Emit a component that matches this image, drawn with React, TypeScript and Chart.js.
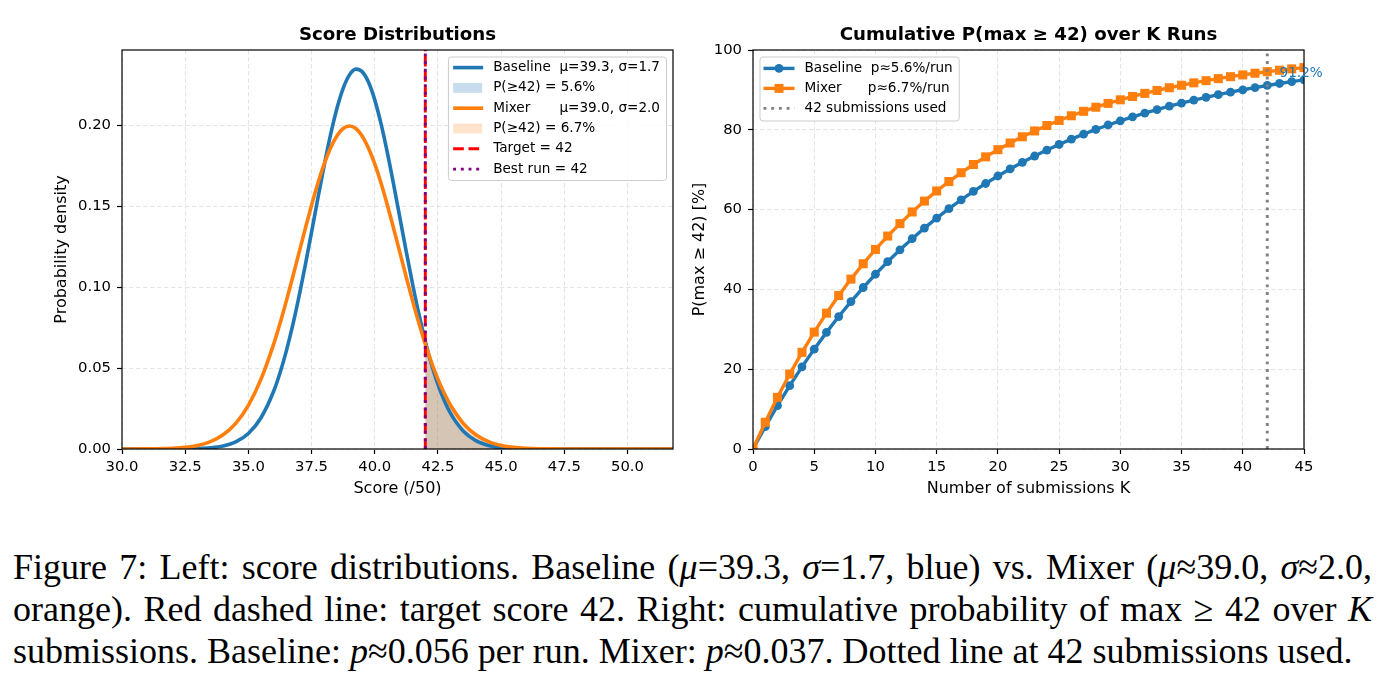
import React, { useEffect, useRef } from "react";
import { Chart, registerables } from "chart.js";
Chart.register(...registerables);

const FONT = "'DejaVu Sans', sans-serif";
const BLUE = "#1f77b4";
const ORANGE = "#ff7f0e";

// ---------- Left panel: score distributions ----------
const SCORE_X = [
  30, 31, 32, 32.5, 33, 33.5, 34, 34.5, 35, 35.5,
  36, 36.25, 36.5, 36.75, 37, 37.25, 37.5, 37.75, 38, 38.25, 38.5, 38.75, 39, 39.25,
  39.5, 39.75, 40, 40.25, 40.5, 40.75, 41, 41.25, 41.5, 41.75, 42, 42.25, 42.5, 42.75,
  43, 43.5, 44, 44.5, 45, 45.5, 46, 46.5, 47, 47.5, 48, 49, 50, 51, 52,
];
const BASELINE_PDF = [
  0, 0.0000016, 0.000023, 0.000079, 0.000244, 0.000697, 0.00182, 0.00436, 0.00957, 0.0193,
  0.03567, 0.04694, 0.06045, 0.07619, 0.09397, 0.11342, 0.13398, 0.15486, 0.17518, 0.19392, 0.21008, 0.2227, 0.23104, 0.23457,
  0.23305, 0.22659, 0.2156, 0.20075, 0.18292, 0.16312, 0.14233, 0.12155, 0.10158, 0.08307, 0.06648, 0.05207, 0.03991, 0.02993,
  0.02197, 0.01109, 0.00514, 0.00218, 0.00085, 0.0003, 0.0001, 0.00003, 0.00001, 0, 0, 0, 0, 0, 0,
];
const MIXER_PDF = [
  0.000008, 0.000067, 0.000436, 0.001014, 0.002216, 0.004547, 0.008764, 0.01587, 0.027, 0.04314,
  0.06476, 0.07751, 0.09132, 0.10594, 0.12099, 0.13603, 0.15057, 0.16408, 0.17603, 0.18593, 0.19333, 0.19792, 0.19947, 0.19792,
  0.19333, 0.18593, 0.17603, 0.16408, 0.15057, 0.13603, 0.12099, 0.10594, 0.09132, 0.07751, 0.06476, 0.05327, 0.04314, 0.03439,
  0.027, 0.01587, 0.00876, 0.00455, 0.00222, 0.00101, 0.00044, 0.00018, 0.00007, 0.00002, 0.00001, 0, 0, 0, 0,
];
const SCORE_TICKS = [30, 32.5, 35, 37.5, 40, 42.5, 45, 47.5, 50];
const DENSITY_TICKS = [0, 0.05, 0.1, 0.15, 0.2];
const TARGET_SCORE = 42;
const BEST_RUN = 42;

// ---------- Right panel: cumulative probability ----------
const K_VALUES = [
  0, 1, 2, 3, 4, 5, 6, 7, 8, 9, 10, 11, 12, 13, 14, 15, 16, 17, 18, 19, 20, 21, 22,
  23, 24, 25, 26, 27, 28, 29, 30, 31, 32, 33, 34, 35, 36, 37, 38, 39, 40, 41, 42, 43, 44, 45,
];
const BASELINE_CUM = [
  0, 5.6, 10.89, 15.88, 20.59, 25.03, 29.23, 33.2, 36.94, 40.47, 43.8, 46.95, 49.92, 52.72, 55.37, 57.87,
  60.23, 62.46, 64.56, 66.54, 68.42, 70.19, 71.86, 73.43, 74.92, 76.32, 77.65, 78.9, 80.08, 81.2, 82.25,
  83.25, 84.18, 85.07, 85.91, 86.69, 87.44, 88.14, 88.81, 89.43, 90.03, 90.58, 91.11, 91.61, 92.08, 92.52,
];
const MIXER_CUM = [
  0, 6.7, 12.95, 18.78, 24.22, 29.3, 34.04, 38.46, 42.58, 46.43, 50.02, 53.37, 56.49, 59.41, 62.13, 64.66,
  67.03, 69.24, 71.3, 73.22, 75.02, 76.69, 78.25, 79.71, 81.07, 82.34, 83.52, 84.63, 85.66, 86.62, 87.51,
  88.35, 89.13, 89.86, 90.54, 91.17, 91.76, 92.32, 92.83, 93.31, 93.76, 94.18, 94.57, 94.93, 95.27, 95.59,
];
const K_TICKS = [0, 5, 10, 15, 20, 25, 30, 35, 40, 45];
const PCT_TICKS = [0, 20, 40, 60, 80, 100];
const SUBMISSIONS_USED = 42;
const ANNOT_TEXT = "91.2%";
const ANNOT_K = 43;
const ANNOT_Y = 93.2;

const TICK_SIZE = 14.8;
const AXIS_TITLE_SIZE = 16;
const LEGEND_SIZE = 13.6;
const GRID_COLOR = "#e4e4e4";

function baseScale(min: number, max: number, ticks: number[], fmt: (v: number) => string, title: string, isX: boolean, extra: any = {}) {
  return {
    type: "linear",
    min,
    max,
    afterBuildTicks: (s: any) => {
      s.ticks = ticks.map((v) => ({ value: v }));
    },
    afterFit: (s: any) => {
      if (isX) s.height = extra.h;
      else s.width = extra.w;
    },
    ticks: {
      color: "#000",
      font: { family: FONT, size: TICK_SIZE },
      padding: isX ? 4.5 : 6,
      callback: (v: any) => fmt(Number(v)),
      maxRotation: 0,
      autoSkip: false,
    },
    grid: {
      color: GRID_COLOR,
      lineWidth: 1,
      drawTicks: true,
      tickLength: 5,
      tickColor: "#000",
      tickWidth: 1.2,
    },
    border: { display: false, dash: [4.5, 2.5] },
    title: {
      display: true,
      text: title,
      color: "#000",
      font: { family: FONT, size: AXIS_TITLE_SIZE },
      padding: extra.titlePad ?? { top: 4, bottom: 4 },
    },
  };
}

function drawSpines(ctx: CanvasRenderingContext2D, a: any) {
  ctx.save();
  ctx.strokeStyle = "#000";
  ctx.lineWidth = 1.2;
  ctx.strokeRect(a.left, a.top, a.right - a.left, a.bottom - a.top);
  ctx.restore();
}

function drawTitle(ctx: CanvasRenderingContext2D, a: any, text: string) {
  ctx.save();
  ctx.font = `bold 18.2px ${FONT}`;
  ctx.fillStyle = "#000";
  ctx.textAlign = "center";
  ctx.textBaseline = "middle";
  ctx.fillText(text, (a.left + a.right) / 2, a.top - 15);
  ctx.restore();
}

function legendFrame(ctx: CanvasRenderingContext2D, x: number, y: number, w: number, h: number) {
  ctx.save();
  ctx.beginPath();
  ctx.roundRect(x, y, w, h, 3);
  ctx.fillStyle = "rgba(255,255,255,0.8)";
  ctx.fill();
  ctx.strokeStyle = "#cccccc";
  ctx.lineWidth = 1;
  ctx.stroke();
  ctx.restore();
}

function hLine(ctx: CanvasRenderingContext2D, x1: number, x2: number, y: number, color: string, width: number, dash: number[] = []) {
  ctx.save();
  ctx.strokeStyle = color;
  ctx.lineWidth = width;
  ctx.setLineDash(dash);
  ctx.beginPath();
  ctx.moveTo(x1, y);
  ctx.lineTo(x2, y);
  ctx.stroke();
  ctx.restore();
}

function vLineAt(chart: any, value: number, color: string, width: number, dash: number[]) {
  const { ctx, chartArea: a, scales } = chart;
  const x = scales.x.getPixelForValue(value);
  ctx.save();
  ctx.beginPath();
  ctx.rect(a.left, a.top, a.right - a.left, a.bottom - a.top);
  ctx.clip();
  ctx.strokeStyle = color;
  ctx.lineWidth = width;
  ctx.setLineDash(dash);
  ctx.beginPath();
  ctx.moveTo(x, a.bottom);
  ctx.lineTo(x, a.top);
  ctx.stroke();
  ctx.restore();
}

const leftPlugin = {
  id: "leftDecor",
  afterDatasetsDraw(chart: any) {
    const { ctx, chartArea: a } = chart;
    vLineAt(chart, TARGET_SCORE, "#ff0000", 2.9, [10.7, 4.6]);
    vLineAt(chart, BEST_RUN, "#800080", 2.9, [2.9, 4.8]);
    drawSpines(ctx, a);
    drawTitle(ctx, a, "Score Distributions");

    ctx.save();
    ctx.font = `${LEGEND_SIZE}px ${FONT}`;
    const statsOff = ctx.measureText("Baseline  ").width;
    const items = [
      { kind: "line", color: BLUE, name: "Baseline", stats: "μ=39.3, σ=1.7" },
      { kind: "patch", color: "rgba(31,119,180,0.25)", name: "P(≥42) = 5.6%" },
      { kind: "line", color: ORANGE, name: "Mixer", stats: "μ=39.0, σ=2.0" },
      { kind: "patch", color: "rgba(255,127,14,0.22)", name: "P(≥42) = 6.7%" },
      { kind: "dash", color: "#ff0000", name: "Target = 42" },
      { kind: "dot", color: "#800080", name: "Best run = 42" },
    ];
    let maxW = 0;
    for (const it of items) {
      const w = it.stats ? statsOff + ctx.measureText(it.stats).width : ctx.measureText(it.name).width;
      maxW = Math.max(maxW, w);
    }
    const boxW = 4.7 + 30 + 10 + maxW + 6.5;
    const boxH = 123.5;
    const bx = a.right - 6.5 - boxW;
    const by = a.top + 7;
    legendFrame(ctx, bx, by, boxW, boxH);
    const hx1 = bx + 4.7;
    const hx2 = hx1 + 30;
    const tx = hx2 + 10;
    items.forEach((it, i) => {
      const cy = by + 10.6 + i * 20.3;
      if (it.kind === "line") hLine(ctx, hx1, hx2, cy, it.color, 3.6);
      else if (it.kind === "patch") {
        ctx.fillStyle = it.color;
        ctx.fillRect(hx1, cy - 5, 29, 10);
      } else if (it.kind === "dash") hLine(ctx, hx1, hx2, cy, it.color, 2.9, [10.7, 4.6]);
      else hLine(ctx, hx1, hx2, cy, it.color, 2.9, [2.9, 4.8]);
      ctx.fillStyle = "#000";
      ctx.textBaseline = "middle";
      ctx.textAlign = "left";
      ctx.fillText(it.name, tx, cy);
      if (it.stats) ctx.fillText(it.stats, tx + statsOff, cy);
    });
    ctx.restore();
  },
};

const rightPlugin = {
  id: "rightDecor",
  afterDatasetsDraw(chart: any) {
    const { ctx, chartArea: a, scales } = chart;
    vLineAt(chart, SUBMISSIONS_USED, "#808080", 2.9, [2.9, 4.8]);
    drawSpines(ctx, a);
    drawTitle(ctx, a, "Cumulative P(max ≥ 42) over K Runs");

    ctx.save();
    ctx.font = `${LEGEND_SIZE}px ${FONT}`;
    ctx.fillStyle = BLUE;
    ctx.textAlign = "left";
    ctx.textBaseline = "alphabetic";
    ctx.fillText(ANNOT_TEXT, scales.x.getPixelForValue(ANNOT_K), scales.y.getPixelForValue(ANNOT_Y));
    ctx.restore();

    ctx.save();
    ctx.font = `${LEGEND_SIZE}px ${FONT}`;
    const statsOff = ctx.measureText("Baseline  ").width;
    const items = [
      { kind: "circle", color: BLUE, name: "Baseline", stats: "p≈5.6%/run", off: statsOff },
      { kind: "square", color: ORANGE, name: "Mixer", stats: "p≈6.7%/run", off: statsOff - 3 },
      { kind: "dot", color: "#808080", name: "42 submissions used", off: 0 },
    ];
    let maxW = 0;
    for (const it of items) {
      const w = it.stats ? it.off + ctx.measureText(it.stats).width : ctx.measureText(it.name).width;
      maxW = Math.max(maxW, w);
    }
    const bx = a.left + 7;
    const by = a.top + 7;
    const boxW = 3.5 + 31 + 10 + maxW + 6.5;
    const boxH = 64;
    legendFrame(ctx, bx, by, boxW, boxH);
    const hx1 = bx + 3.5;
    const hx2 = hx1 + 31;
    const tx = hx2 + 10;
    items.forEach((it, i) => {
      const cy = by + 11.4 + i * 20;
      const mx = (hx1 + hx2) / 2;
      if (it.kind === "circle") {
        hLine(ctx, hx1, hx2, cy, it.color, 3.4);
        ctx.fillStyle = it.color;
        ctx.beginPath();
        ctx.arc(mx, cy, 4.4, 0, Math.PI * 2);
        ctx.fill();
      } else if (it.kind === "square") {
        hLine(ctx, hx1, hx2, cy, it.color, 3.4);
        ctx.fillStyle = it.color;
        ctx.fillRect(mx - 4.5, cy - 4.5, 9, 9);
      } else hLine(ctx, hx1, hx2, cy, it.color, 2.9, [2.9, 4.8]);
      ctx.fillStyle = "#000";
      ctx.textBaseline = "middle";
      ctx.textAlign = "left";
      ctx.fillText(it.name, tx, cy);
      if (it.stats) ctx.fillText(it.stats, tx + it.off, cy);
    });
    ctx.restore();
  },
};

function LeftChart() {
  const ref = useRef<HTMLCanvasElement>(null);
  useEffect(() => {
    const pts = (ys: number[]) => SCORE_X.map((x, i) => ({ x, y: ys[i] }));
    const chart = new Chart(ref.current as HTMLCanvasElement, {
      type: "line",
      data: {
        datasets: [
          {
            label: "Mixer",
            data: pts(MIXER_PDF),
            borderColor: ORANGE,
            borderWidth: 3.6,
            pointRadius: 0,
            cubicInterpolationMode: "monotone",
            fill: false,
            order: 1,
          },
          {
            label: "Baseline",
            data: pts(BASELINE_PDF),
            borderColor: BLUE,
            borderWidth: 3.6,
            pointRadius: 0,
            cubicInterpolationMode: "monotone",
            fill: false,
            order: 2,
          },
          {
            label: "Mixer P(>=42)",
            data: pts(MIXER_PDF).filter((p) => p.x >= TARGET_SCORE),
            borderWidth: 0,
            borderColor: "rgba(0,0,0,0)",
            backgroundColor: "rgba(255,127,14,0.25)",
            pointRadius: 0,
            cubicInterpolationMode: "monotone",
            fill: "origin",
            order: 3,
          },
          {
            label: "Baseline P(>=42)",
            data: pts(BASELINE_PDF).filter((p) => p.x >= TARGET_SCORE),
            borderWidth: 0,
            borderColor: "rgba(0,0,0,0)",
            backgroundColor: "rgba(31,119,180,0.25)",
            pointRadius: 0,
            cubicInterpolationMode: "monotone",
            fill: "origin",
            order: 4,
          },
        ],
      },
      options: {
        responsive: false,
        animation: false,
        events: [],
        layout: { padding: { left: 48, top: 50, right: 17, bottom: 8 } },
        plugins: { legend: { display: false }, tooltip: { enabled: false }, title: { display: false } },
        scales: {
          x: baseScale(30, 51.8, SCORE_TICKS, (v) => v.toFixed(1), "Score (/50)", true, { h: 53 }) as any,
          y: baseScale(0, 0.2464, DENSITY_TICKS, (v) => v.toFixed(2), "Probability density", false, { w: 74 }) as any,
        },
      },
      plugins: [leftPlugin],
    });
    return () => chart.destroy();
  }, []);
  return <canvas ref={ref} width={690} height={510} style={{ display: "block" }} />;
}

function RightChart() {
  const ref = useRef<HTMLCanvasElement>(null);
  useEffect(() => {
    const pts = (ys: number[]) => K_VALUES.map((x, i) => ({ x, y: ys[i] }));
    const chart = new Chart(ref.current as HTMLCanvasElement, {
      type: "line",
      data: {
        datasets: [
          {
            label: "Baseline",
            data: pts(BASELINE_CUM),
            borderColor: BLUE,
            backgroundColor: BLUE,
            borderWidth: 3.4,
            pointRadius: 4.4,
            pointStyle: "circle",
            pointBorderWidth: 0,
            tension: 0,
            order: 2,
          },
          {
            label: "Mixer",
            data: pts(MIXER_CUM),
            borderColor: ORANGE,
            backgroundColor: ORANGE,
            borderWidth: 3.4,
            pointRadius: 6.4,
            pointStyle: "rect",
            pointBorderWidth: 0,
            tension: 0,
            order: 1,
          },
        ],
      },
      options: {
        responsive: false,
        animation: false,
        events: [],
        layout: { padding: { left: 0, top: 50, right: 87, bottom: 8 } },
        plugins: { legend: { display: false }, tooltip: { enabled: false }, title: { display: false } },
        scales: {
          x: baseScale(0, 45, K_TICKS, (v) => String(v), "Number of submissions K", true, { h: 53 }) as any,
          y: baseScale(0, 100, PCT_TICKS, (v) => String(v), "P(max ≥ 42) [%]", false, { w: 63, titlePad: { top: 0, bottom: 4 } }) as any,
        },
      },
      plugins: [rightPlugin],
    });
    return () => chart.destroy();
  }, []);
  return <canvas ref={ref} width={701} height={510} style={{ display: "block" }} />;
}

const CAP_FONT = "'Liberation Serif', 'Times New Roman', serif";

export default function App() {
  const lineStyle: React.CSSProperties = {
    height: 42,
    lineHeight: "42px",
    textAlign: "justify",
    textAlignLast: "justify" as any,
    whiteSpace: "nowrap",
  };
  return (
    <div style={{ position: "absolute", left: 0, top: 0, width: 1391, height: 682, background: "#fff", overflow: "hidden" }}>
      <div style={{ position: "absolute", left: 0, top: 0 }}>
        <LeftChart />
      </div>
      <div style={{ position: "absolute", left: 690, top: 0 }}>
        <RightChart />
      </div>
      <div
        style={{
          position: "absolute",
          left: 13,
          top: 546,
          width: 1359,
          fontFamily: CAP_FONT,
          fontSize: 36,
          color: "#000",
        }}
      >
        <div style={lineStyle}>
          Figure 7: Left: score distributions. Baseline (<i>μ</i>=39.3, <i>σ</i>=1.7, blue) vs. Mixer (<i>μ</i>≈39.0, <i>σ</i>≈2.0,
        </div>
        <div style={lineStyle}>
          orange). Red dashed line: target score 42. Right: cumulative probability of max ≥ 42 over <i>K</i>
        </div>
        <div style={{ ...lineStyle, textAlign: "left", textAlignLast: "left" as any }}>
          submissions. Baseline: <i>p</i>≈0.056 per run. Mixer: <i>p</i>≈0.037. Dotted line at 42 submissions used.
        </div>
      </div>
    </div>
  );
}
